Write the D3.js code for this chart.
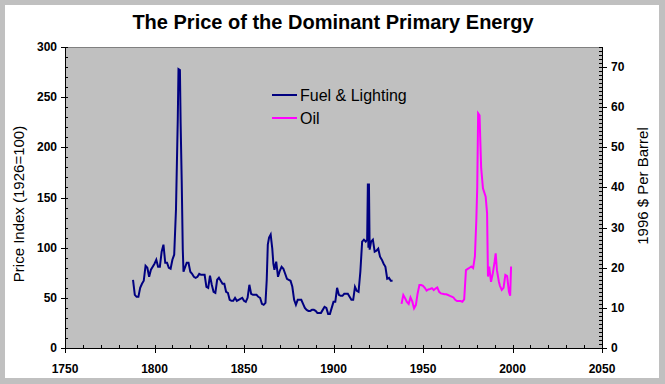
<!DOCTYPE html>
<html><head><meta charset="utf-8">
<script src="https://cdn.jsdelivr.net/npm/d3@7"></script>
<style>body{margin:0;background:#fff}svg{display:block}</style>
</head><body>
<script>
const title = "The Price of the Dominant Primary Energy";
const leftTitle = "Price Index (1926=100)";
const rightTitle = "1996 $ Per Barrel";
const seriesNames = ["Fuel & Lighting", "Oil"];
const xTicks = [1750, 1800, 1850, 1900, 1950, 2000, 2050];
const leftTicks = [0, 50, 100, 150, 200, 250, 300];
const rightTicks = [0, 10, 20, 30, 40, 50, 60, 70];

const fuelYears = [1788,1789,1790,1791,1792,1793,1794,1795,1796,1797,1798,1799,1800,1801,1802,1803,1804,1805,1806,1807,1808,1809,1810,1811,1812,1813,1813.4,1814.2,1814.6,1815.2,1815.8,1816.2,1817,1818,1819,1820,1821,1822,1823,1824,1825,1826,1827,1828,1829,1830,1831,1832,1833,1834,1835,1836,1837,1838,1839,1840,1841,1842,1843,1844,1845,1846,1847,1848,1849,1850,1851,1852,1853,1854,1855,1856,1857,1858,1859,1860,1861,1862,1862.7,1863.3,1864,1864.9,1865.8,1866.4,1867,1868,1869,1870,1871,1872,1873,1874,1875,1876,1877,1878,1879,1880,1881,1882,1883,1884,1885,1886,1887,1888,1889,1890,1891,1892,1893,1894,1895,1896,1897,1898,1899,1900,1901,1902,1903,1904,1905,1906,1907,1908,1909,1910,1911,1912,1913,1914,1915,1916,1917,1918,1918.8,1919.2,1919.5,1919.8,1920.2,1921,1922,1923,1924,1925,1926,1927,1928,1929,1930,1931,1932,1933];
const fuelValues = [68,53,51,51,60,64,67,82,80,71,78,81,84,88,81,81,96,103,85,85,80,79,88,93,138,228,278,277,224,167,98,76,80,85,85,76,74,71,70,71,74,73,73,73,61,60,72,63,56,55,68,70,67,64,64,56,55,48,47,47,50,47,48,49,50,47,46,50,63,54,53,53,53,51,50,44,43,45,68,103,110,113,99,84,78,86,71,77,81,79,74,69,68,67,61,48,43,48,48,48,44,40,38,37,37,38,38,37,35,35,35,38,41,40,34,34,40,46,46,60,53,52,52,54,54,54,51,48,48,61,57,56,76,106,108,106,108,164,100,164,98,106,108,96,97,99,91,88,84,81,69,70,67,67];

const oilYears = [1938,1939,1940,1941,1942,1943,1944,1945,1946,1947,1948,1949,1950,1951,1952,1953,1954,1955,1956,1957,1958,1959,1960,1961,1962,1963,1964,1965,1966,1967,1968,1969,1970,1971,1972,1973,1974,1975,1976,1977,1978,1979,1979.8,1980.3,1980.8,1981.6,1982,1982.5,1983.5,1985,1985.8,1986.3,1987,1988,1989,1990,1990.6,1991.3,1992.4,1993,1994,1995,1996,1997,1998,1998.7,1999.2];
const oilValues = [11,13.2,12.4,11.5,11,12.6,11.6,9.9,10.7,13.6,15.7,15.7,15.5,15,14.3,14.6,14.7,14.9,14.4,14.8,15.1,14,13.6,13.5,13.4,13.4,13.2,13,12.8,12.6,12,11.7,11.7,11.7,11.5,12.1,19.4,19.7,20,20.3,19.9,22.8,32,40,58.5,58,51.8,44.8,39.8,37.7,33.6,17.8,20.3,16.5,18.6,21.5,23.6,19.4,16.5,15.5,14.5,15,18.2,17.9,14,13,20.3];

const W = 665, H = 384;
const m = {left: 65, right: 602, top: 47, bottom: 348};
const svg = d3.select("body").append("svg").attr("width", W).attr("height", H);
const font = "Arial, 'Liberation Sans', sans-serif";

svg.append("rect").attr("width", W).attr("height", H).attr("fill", "#c0c0c0");
svg.append("rect").attr("x", 5).attr("y", 5).attr("width", 654).attr("height", 373).attr("fill", "#fff");

const x = d3.scaleLinear().domain([1750, 2050]).range([m.left, m.right]);
const yL = d3.scaleLinear().domain([0, 300]).range([m.bottom, m.top]);
const yR = d3.scaleLinear().domain([0, 75]).range([m.bottom, m.top]);

svg.append("rect").attr("x", m.left + 0.5).attr("y", m.top + 0.5).attr("width", m.right - m.left).attr("height", m.bottom - m.top)
  .attr("fill", "#c0c0c0").attr("stroke", "#808080").attr("stroke-width", 1);

// minor ticks
const g = svg.append("g").attr("stroke", "#000").attr("shape-rendering", "crispEdges");
d3.range(0, 301, 10).forEach(v => { const yy = Math.round(yL(v)) + 0.5;
  g.append("line").attr("x1", m.left).attr("x2", m.left + 3).attr("y1", yy).attr("y2", yy); });
d3.range(0, 76, 1).forEach(v => { const yy = Math.round(yR(v)) + 0.5;
  g.append("line").attr("x1", m.right - 3).attr("x2", m.right).attr("y1", yy).attr("y2", yy); });
d3.range(1750, 2051, 10).forEach(v => { const xx = Math.round(x(v)) + 0.5;
  g.append("line").attr("x1", xx).attr("x2", xx).attr("y1", m.bottom - 3).attr("y2", m.bottom); });

// major ticks + axis lines
leftTicks.forEach(v => { const yy = Math.round(yL(v)) + 0.5;
  g.append("line").attr("x1", m.left - 4).attr("x2", m.left + 3).attr("y1", yy).attr("y2", yy); });
rightTicks.forEach(v => { const yy = Math.round(yR(v)) + 0.5;
  g.append("line").attr("x1", m.right - 3).attr("x2", m.right + 5).attr("y1", yy).attr("y2", yy); });
xTicks.forEach(v => { const xx = Math.round(x(v)) + 0.5;
  g.append("line").attr("x1", xx).attr("x2", xx).attr("y1", m.bottom - 3).attr("y2", m.bottom + 5); });
g.append("line").attr("x1", m.left + 0.5).attr("x2", m.left + 0.5).attr("y1", m.top).attr("y2", m.bottom);
g.append("line").attr("x1", m.right + 0.5).attr("x2", m.right + 0.5).attr("y1", m.top).attr("y2", m.bottom);
g.append("line").attr("x1", m.left).attr("x2", m.right + 1).attr("y1", m.bottom + 0.5).attr("y2", m.bottom + 0.5);

// tick labels
const tl = svg.append("g").attr("font-family", font).attr("font-size", 12).attr("font-weight", "bold").attr("fill", "#000");
leftTicks.forEach(v => tl.append("text").attr("x", m.left - 8).attr("y", yL(v) + 4).attr("text-anchor", "end").text(v));
rightTicks.forEach(v => tl.append("text").attr("x", m.right + 9).attr("y", yR(v) + 4).attr("text-anchor", "start").text(v));
xTicks.forEach(v => tl.append("text").attr("x", x(v)).attr("y", m.bottom + 25).attr("text-anchor", "middle").text(v));

// titles
svg.append("text").attr("x", 333).attr("y", 29).attr("text-anchor", "middle").attr("font-family", font)
  .attr("font-size", 20).attr("font-weight", "bold").text(title);
svg.append("text").attr("transform", "translate(24,204) rotate(-90)").attr("text-anchor", "middle")
  .attr("font-family", font).attr("font-size", 15).text(leftTitle);
svg.append("text").attr("transform", "translate(648,186) rotate(-90)").attr("text-anchor", "middle")
  .attr("font-family", font).attr("font-size", 15).text(rightTitle);

// series
const fuel = fuelYears.map((yr, i) => [yr, fuelValues[i]]);
const oil = oilYears.map((yr, i) => [yr, oilValues[i]]);
svg.append("path").datum(fuel).attr("fill", "none").attr("stroke", "#000080").attr("stroke-width", 2)
  .attr("d", d3.line().x(d => x(d[0])).y(d => yL(d[1])));
svg.append("path").datum(oil).attr("fill", "none").attr("stroke", "#ff00ff").attr("stroke-width", 2)
  .attr("d", d3.line().x(d => x(d[0])).y(d => yR(d[1])));

// legend
const colors = ["#000080", "#ff00ff"];
seriesNames.forEach((n, i) => {
  const yy = 95 + i * 23;
  svg.append("line").attr("x1", 272).attr("x2", 297).attr("y1", yy).attr("y2", yy).attr("stroke", colors[i]).attr("stroke-width", 2);
  svg.append("text").attr("x", 300).attr("y", yy + 6).attr("font-family", font).attr("font-size", 16).text(n);
});
</script>
</body></html>
